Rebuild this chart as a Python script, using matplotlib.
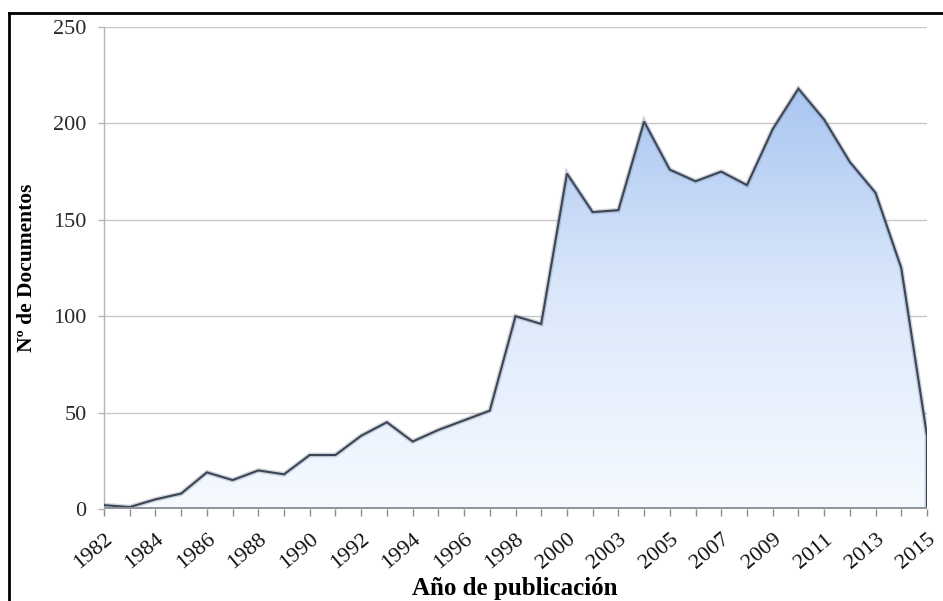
import numpy as np
import matplotlib
matplotlib.use("Agg")
import matplotlib.pyplot as plt
from matplotlib.lines import Line2D
from matplotlib.colors import LinearSegmentedColormap

categories = [str(y) for y in range(1982, 2002)] + [str(y) for y in range(2003, 2016)]
values = [2, 1, 5, 8, 19, 15, 20, 18, 28, 28, 38, 45, 35, 41, 46, 51, 100, 96,
          174, 154, 155, 201, 176, 170, 175, 168, 197, 218, 202, 180, 164, 125, 38]
yticks = [0, 50, 100, 150, 200, 250]
ylabel = "Nº de Documentos"
xlabel = "Año de publicación"

W, H = 943, 601
fig = plt.figure(figsize=(W / 100, H / 100), dpi=100)
ax = fig.add_axes([104 / W, 1 - 509 / H, (927 - 104) / W, (509 - 27) / H])

x = np.arange(len(values))
poly = ax.fill_between(x, values, 0, facecolor="none", edgecolor="none", zorder=2)

cmap = LinearSegmentedColormap.from_list("g", ["#f6faff", "#dbe8fb", "#a6c3f1"])
grad = np.linspace(0, 1, 256).reshape(-1, 1)
im = ax.imshow(grad, extent=[0, len(values) - 1, 0, 225], origin="lower",
               aspect="auto", cmap=cmap, zorder=2, interpolation="bilinear")
im.set_clip_path(poly.get_paths()[0], transform=ax.transData)

# outline with soft shadow
xo = list(x) + [x[-1]]
yo = list(values) + [0]
ax.plot(xo, yo, color="#7d8898", lw=3.5, alpha=0.35, zorder=3, solid_joinstyle="miter")
ax.plot(xo, yo, color="#3a4555", lw=1.5, zorder=4, solid_joinstyle="miter")
# floor
ax.plot([0, x[-1]], [0, 0], color="#8c919b", lw=3.5, zorder=4, solid_capstyle="butt")

ax.set_xlim(0, len(values) - 1)
ax.set_ylim(0, 250)
ax.set_yticks(yticks)
ax.set_xticks(x)
ax.set_xticklabels([c if i % 2 == 0 else "" for i, c in enumerate(categories)],
                   rotation=40, ha="right", rotation_mode="anchor",
                   fontfamily="Liberation Serif", fontsize=16)
for lab in ax.get_yticklabels():
    lab.set_fontfamily("Liberation Serif")
    lab.set_fontsize(16)
ax.grid(axis="y", color="#c8c8c8", lw=1, zorder=0)
ax.set_axisbelow(True)
for s in ["top", "right", "bottom"]:
    ax.spines[s].set_visible(False)
ax.spines["left"].set_color("#b5b5b5")
ax.spines["left"].set_linewidth(1)
ax.tick_params(axis="y", length=4.5, width=1, color="#b5b5b5", pad=8, labelcolor="#2a2a2a")
ax.tick_params(axis="x", length=5, width=1, color="#8c8c8c", pad=10, labelcolor="#111111")

fig.text(27 / W, 1 - 268 / H, ylabel, rotation=90, ha="center", va="center",
         fontfamily="Liberation Serif", fontweight="bold", fontsize=15.5)
fig.text(515 / W, 1 - 589 / H, xlabel, ha="center", va="center",
         fontfamily="Liberation Serif", fontweight="bold", fontsize=18)

fig.add_artist(Line2D([9 / W, 9 / W], [0, 1 - 13 / H], color="black", lw=2))
fig.add_artist(Line2D([9 / W, 1], [1 - 13 / H, 1 - 13 / H], color="black", lw=2))

fig.savefig("out.png", dpi=100)
